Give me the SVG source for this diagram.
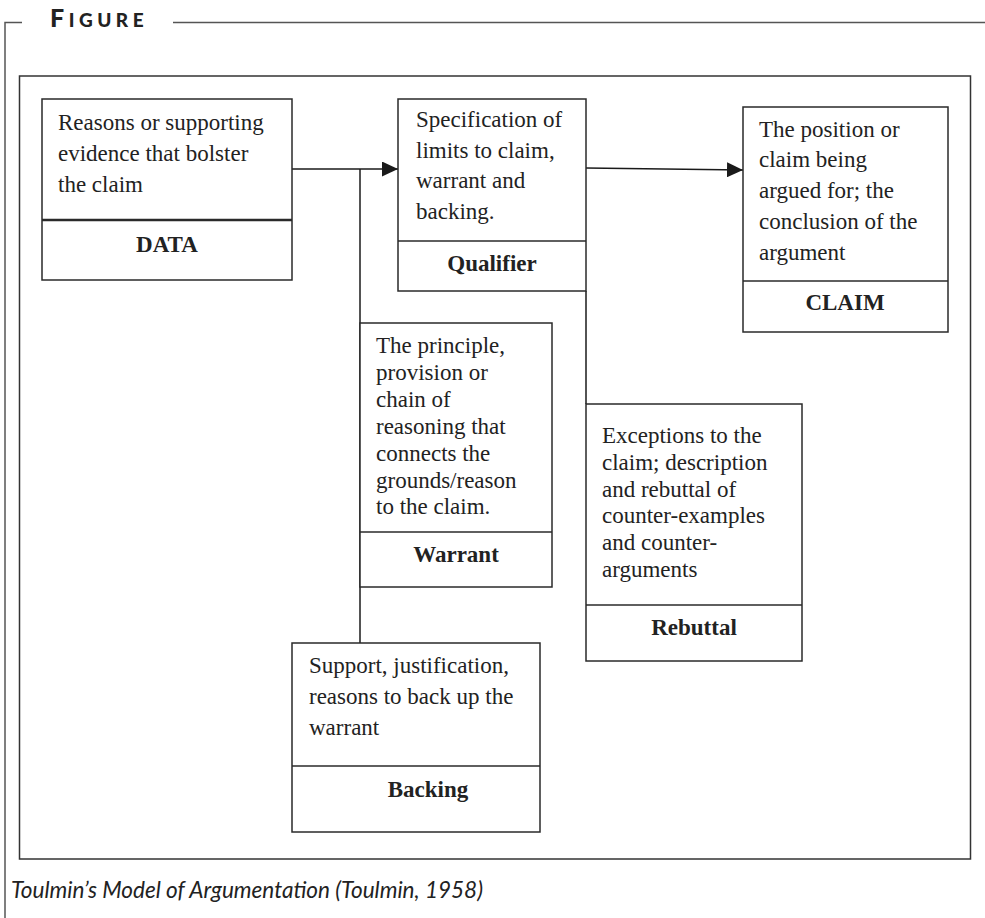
<svg xmlns="http://www.w3.org/2000/svg" width="985" height="918" viewBox="0 0 985 918">
<defs>
<style>
.frame{fill:none;stroke:#555;stroke-width:1.5}
.box{fill:#fff;stroke:#2a2a2a;stroke-width:1.5}
.div{stroke:#2a2a2a;stroke-width:1.5}
.conn{fill:none;stroke:#1a1a1a;stroke-width:1.5}
.t{font-family:"Liberation Serif","Times New Roman",serif;font-size:23px;fill:#222}
.lbl{font-family:"Liberation Serif","Times New Roman",serif;font-size:23px;font-weight:bold;fill:#222;text-anchor:middle}
.head{font-family:Lato,"Open Sans",sans-serif;font-weight:900;fill:#222;letter-spacing:4.5px}
.cap{font-family:Lato,"Open Sans",sans-serif;font-style:italic;font-size:23px;fill:#222}
</style>
<marker id="ah" markerWidth="16" markerHeight="15" refX="16" refY="7.5" orient="auto" markerUnits="userSpaceOnUse">
<path d="M0,0 L16,7.5 L0,15 Z" fill="#1a1a1a"/>
</marker>
</defs>
<rect width="985" height="918" fill="#fff"/>
<g id="frame">
<path class="frame" d="M22,22.5 H5 V918"/>
<path class="frame" d="M173,22.5 H985"/>
<text class="head" x="50" y="27"><tspan font-size="25">F</tspan><tspan font-size="19">IGURE</tspan></text>
<rect x="19.5" y="76" width="951" height="783" fill="none" stroke="#333" stroke-width="1.5"/>
</g>
<g id="connectors">
<line class="conn" x1="292" y1="169" x2="398" y2="169" marker-end="url(#ah)"/>
<line class="conn" x1="360" y1="169" x2="360" y2="643"/>
<line class="conn" x1="586" y1="168" x2="743" y2="170" marker-end="url(#ah)"/>
<line class="conn" x1="586" y1="291" x2="586" y2="404"/>
</g>
<g id="data">
<rect class="box" x="42" y="99" width="250" height="181"/>
<line x1="42" y1="220" x2="292" y2="220" stroke="#2a2a2a" stroke-width="2.5"/>
<text class="t" x="58" y="130">Reasons or supporting</text>
<text class="t" x="58" y="161">evidence that bolster</text>
<text class="t" x="58" y="192">the claim</text>
<text class="lbl" x="167" y="252">DATA</text>
</g>
<g id="qualifier">
<rect class="box" x="398" y="99" width="188" height="192"/>
<line class="div" x1="398" y1="241" x2="586" y2="241"/>
<text class="t" x="416" y="127">Specification of</text>
<text class="t" x="416" y="158">limits to claim,</text>
<text class="t" x="416" y="188">warrant and</text>
<text class="t" x="416" y="219">backing.</text>
<text class="lbl" x="492" y="271">Qualifier</text>
</g>
<g id="claim">
<rect class="box" x="743" y="107" width="205" height="225"/>
<line class="div" x1="743" y1="281" x2="948" y2="281"/>
<text class="t" x="759" y="137">The position or</text>
<text class="t" x="759" y="167">claim being</text>
<text class="t" x="759" y="198">argued for; the</text>
<text class="t" x="759" y="229">conclusion of the</text>
<text class="t" x="759" y="260">argument</text>
<text class="lbl" x="845" y="310">CLAIM</text>
</g>
<g id="warrant">
<rect class="box" x="360" y="323" width="192" height="264"/>
<line class="div" x1="360" y1="532" x2="552" y2="532"/>
<text class="t" x="376" y="353">The principle,</text>
<text class="t" x="376" y="380">provision or</text>
<text class="t" x="376" y="407">chain of</text>
<text class="t" x="376" y="434">reasoning that</text>
<text class="t" x="376" y="461">connects the</text>
<text class="t" x="376" y="488">grounds/reason</text>
<text class="t" x="376" y="514">to the claim.</text>
<text class="lbl" x="456" y="562">Warrant</text>
</g>
<g id="rebuttal">
<rect class="box" x="586" y="404" width="216" height="257"/>
<line class="div" x1="586" y1="605" x2="802" y2="605"/>
<text class="t" x="602" y="443">Exceptions to the</text>
<text class="t" x="602" y="470">claim; description</text>
<text class="t" x="602" y="497">and rebuttal of</text>
<text class="t" x="602" y="523">counter-examples</text>
<text class="t" x="602" y="550">and counter-</text>
<text class="t" x="602" y="577">arguments</text>
<text class="lbl" x="694" y="635">Rebuttal</text>
</g>
<g id="backing">
<rect class="box" x="292" y="643" width="248" height="189"/>
<line class="div" x1="292" y1="766" x2="540" y2="766"/>
<text class="t" x="309" y="673">Support, justification,</text>
<text class="t" x="309" y="704">reasons to back up the</text>
<text class="t" x="309" y="735">warrant</text>
<text class="lbl" x="428" y="797">Backing</text>
</g>
<g id="caption">
<text class="cap" x="11" y="898" textLength="472" lengthAdjust="spacingAndGlyphs">Toulmin’s Model of Argumentation (Toulmin, 1958)</text>
</g>
</svg>
